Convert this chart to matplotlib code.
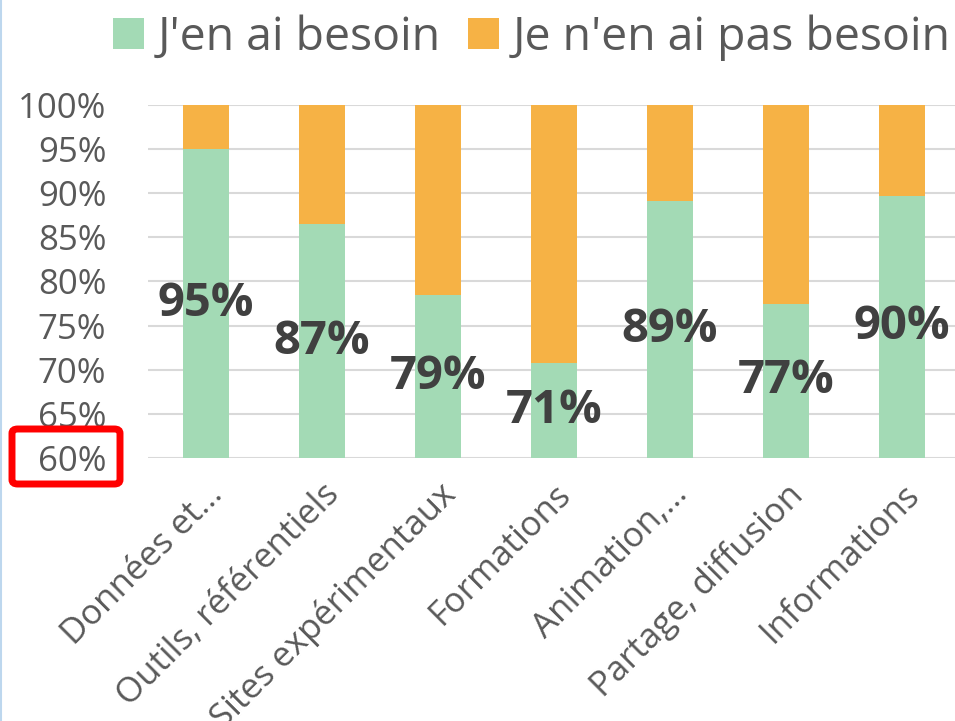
import matplotlib.pyplot as plt
import numpy as np
from matplotlib.patches import FancyBboxPatch
from matplotlib.lines import Line2D
from matplotlib.ticker import FuncFormatter

categories = ["Données et…", "Outils, référentiels", "Sites expérimentaux", "Formations",
              "Animation,…", "Partage, diffusion", "Informations"]
need = [95.0, 86.5, 78.5, 70.8, 89.1, 77.5, 89.7]
labels = ["95%", "87%", "79%", "71%", "89%", "77%", "90%"]
legend_names = ["J'en ai besoin", "Je n'en ai pas besoin"]

GREEN = "#A3DAB5"
ORANGE = "#F6B245"
TEXT = "#595959"

plt.rcParams["font.family"] = ["Open Sans", "DejaVu Sans"]

fig = plt.figure(figsize=(9.55, 7.21), dpi=100)
ax = fig.add_axes([148 / 955, 263 / 721, 812 / 955, 353 / 721])

x = np.arange(len(categories))
need = np.array(need)
no_need = 100 - need
b1 = ax.bar(x, need, width=0.4, color=GREEN, label=legend_names[0], zorder=2)
b2 = ax.bar(x, no_need, width=0.4, bottom=need, color=ORANGE, label=legend_names[1], zorder=2)

ax.set_xlim(-0.5, len(categories) - 0.5)
ax.set_ylim(60, 100)
ax.set_yticks(np.arange(60, 101, 5))
ax.yaxis.set_major_formatter(FuncFormatter(lambda v, _: f"{v:.0f}%"))
ax.grid(axis="y", color="#D9D9D9", linewidth=1.5, zorder=0)
ax.set_axisbelow(True)
for s in ax.spines.values():
    s.set_visible(False)
ax.tick_params(axis="both", length=0, colors=TEXT, labelsize=25)
ax.tick_params(axis="y", pad=30)
ax.tick_params(axis="x", pad=14)
ax.set_xticks(x)
ax.set_xticklabels(categories, rotation=45, ha="right", rotation_mode="anchor")

for xi, v, lab in zip(x, need, labels):
    ax.text(xi, (60 + v) / 2, lab, ha="center", va="center", fontsize=34,
            fontweight="bold", color="#404040", zorder=3)

fig.legend(handles=[b1, b2], loc="upper center", bbox_to_anchor=(532 / 955, 1.012),
           ncol=2, frameon=False, fontsize=33.4, labelcolor=TEXT,
           handlelength=0.65, handleheight=0.65, handletextpad=0.3,
           columnspacing=0.6, borderaxespad=0.1)

# red highlight box round the 60% tick label
fig.patches.append(FancyBboxPatch((12 / 955, (721 - 484) / 721), 108 / 955, 55 / 721,
                                  boxstyle="round,pad=0,rounding_size=0.006",
                                  transform=fig.transFigure, fill=False,
                                  edgecolor="#FF0000", linewidth=5))
fig.lines.append(Line2D([1 / 955, 1 / 955], [0, 1], transform=fig.transFigure,
                        color="#BDD7EE", linewidth=1.5))

fig.savefig("out.png", dpi=100)
